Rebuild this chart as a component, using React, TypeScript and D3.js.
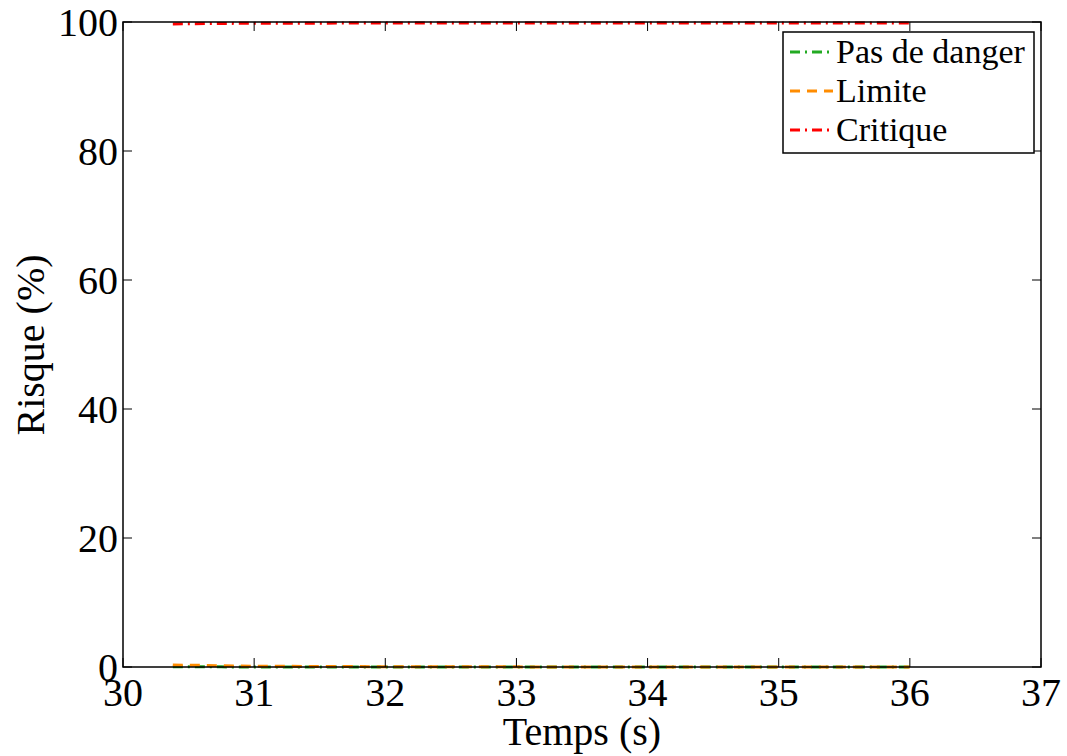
import React from "react";
import * as d3 from "d3";

const times = [30.38, 30.5, 30.75, 31, 31.5, 32, 32.5, 33, 33.5, 34, 34.5, 35, 35.5, 36];
const pasDeDanger = [0.05, 0.05, 0.02, 0, 0, 0, 0, 0, 0, 0, 0, 0, 0, 0];
const limite = [0.3, 0.28, 0.2, 0.12, 0.08, 0.05, 0.03, 0.02, 0.01, 0, 0, 0, 0, 0];
const critique = [99.7, 99.72, 99.78, 99.8, 99.82, 99.85, 99.85, 99.85, 99.85, 99.85, 99.85, 99.85, 99.85, 99.85];
const xTicks = [30, 31, 32, 33, 34, 35, 36, 37];
const yTicks = [0, 20, 40, 60, 80, 100];

const seriesList = [
  { name: "Pas de danger", values: pasDeDanger, color: "#22aa22", dash: "10,5,2,5" },
  { name: "Limite", values: limite, color: "#ff8c00", dash: "10,7" },
  { name: "Critique", values: critique, color: "#ff0000", dash: "10,5,2,5" },
];

const font = "Liberation Serif";

export default function App() {
  const W = 1067, H = 756;
  const L = 123, R = 1041, T = 22, B = 667;
  const x = d3.scaleLinear().domain([30, 37]).range([L, R]);
  const y = d3.scaleLinear().domain([0, 100]).range([B, T]);
  const line = d3.line<number>().x((_, i) => x(times[i])).y((v) => y(v));
  const drawOrder = [2, 0, 1];
  const ts = { fontFamily: font };
  return (
    <svg width={W} height={H} style={{ position: "absolute", left: 0, top: 0, background: "#fff" }}>
      <rect x={0} y={0} width={W} height={H} fill="#fff" />
      {drawOrder.map((si) => {
        const s = seriesList[si];
        return (
          <path key={s.name} d={line(s.values) || ""} fill="none" stroke={s.color}
            strokeWidth={3} strokeDasharray={s.dash} />
        );
      })}
      <rect x={L} y={T} width={R - L} height={B - T} fill="none" stroke="#000" strokeWidth={1.5} />
      {xTicks.map((t) => (
        <g key={"x" + t}>
          <line x1={x(t)} x2={x(t)} y1={B} y2={B - 9} stroke="#000" strokeWidth={1} />
          <line x1={x(t)} x2={x(t)} y1={T} y2={T + 9} stroke="#000" strokeWidth={1} />
          <text x={x(t)} y={706} textAnchor="middle" style={ts} fontSize={40}>{t}</text>
        </g>
      ))}
      {yTicks.map((t) => (
        <g key={"y" + t}>
          <line x1={L} x2={L + 9} y1={y(t)} y2={y(t)} stroke="#000" strokeWidth={1} />
          <line x1={R} x2={R - 9} y1={y(t)} y2={y(t)} stroke="#000" strokeWidth={1} />
          <text x={118} y={y(t) + 14} textAnchor="end" style={ts} fontSize={40}>{t}</text>
        </g>
      ))}
      <text x={582} y={745} textAnchor="middle" style={ts} fontSize={40}>Temps (s)</text>
      <text transform={`translate(44,345) rotate(-90)`} textAnchor="middle"
        style={{ fontFamily: "Times New Roman, Liberation Serif, serif" }} fontSize={40}>Risque (%)</text>
      <g>
        <rect x={783} y={32} width={251} height={121} fill="#fff" stroke="#000" strokeWidth={1.5} />
        {seriesList.map((s, i) => {
          const cy = 52 + i * 39;
          return (
            <g key={"lg" + s.name}>
              <line x1={790} x2={833} y1={cy} y2={cy} stroke={s.color} strokeWidth={3} strokeDasharray={s.dash} />
              <text x={836} y={cy + 11} style={ts} fontSize={34}>{s.name}</text>
            </g>
          );
        })}
      </g>
    </svg>
  );
}
